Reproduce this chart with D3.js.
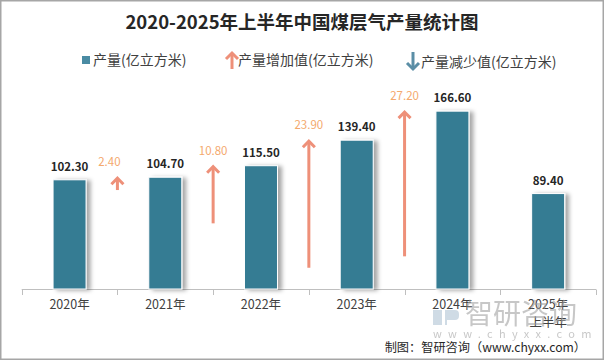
<!DOCTYPE html>
<html>
<head>
<meta charset="utf-8">
<script src="https://cdn.jsdelivr.net/npm/d3@7"></script>
<style>
  body { margin: 0; background: #fff; }
  text { font-family: "Noto Sans CJK SC", "Noto Sans", sans-serif; }
</style>
</head>
<body>
<script>
const width = 604;
const height = 361;

// data
const categories = ["2020年", "2021年", "2022年", "2023年", "2024年", "2025年\n上半年"];
const production = [102.3, 104.7, 115.5, 139.4, 166.6, 89.4];
const increase = [null, 2.4, 10.8, 23.9, 27.2, null];

const barColor = "#367b93";
const upColor = "#ee9079";
const upLabelColor = "#f4a96e";
const downColor = "#5b8ea6";
const textColor = "#404040";

const svg = d3.select("body").append("svg")
    .attr("width", width)
    .attr("height", height);

const defs = svg.append("defs");
const shadow = defs.append("filter").attr("id", "shadow")
    .attr("x", "-20%").attr("y", "-10%").attr("width", "160%").attr("height", "130%");
shadow.append("feDropShadow")
    .attr("dx", 4).attr("dy", 1).attr("stdDeviation", 2)
    .attr("flood-color", "#000").attr("flood-opacity", 0.35);

const x = d3.scaleBand()
    .domain(categories)
    .range([21.7, 596])
    .padding(0);

const y = d3.scaleLinear()
    .domain([0, 200])
    .range([289, 75.5]);

// frame
svg.append("rect")
    .attr("x", 0.75).attr("y", 0.75)
    .attr("width", width - 1.5).attr("height", height - 2.5)
    .attr("fill", "none").attr("stroke", "#a6a6a6").attr("stroke-width", 1.5);

// title
svg.append("text")
    .attr("x", width / 2).attr("y", 29)
    .attr("text-anchor", "middle")
    .attr("font-size", "18.5px").attr("font-weight", "bold")
    .attr("fill", "#262626")
    .text("2020-2025年上半年中国煤层气产量统计图");

// legend
const legend = svg.append("g").attr("font-size", "14px").attr("fill", textColor);
legend.append("rect").attr("x", 82).attr("y", 56).attr("width", 8).attr("height", 8).attr("fill", "#4a8ba3");
legend.append("text").attr("x", 93).attr("y", 65).text("产量(亿立方米)");

function drawArrow(g, x0, yTail, yTip, color, w) {
    const dir = yTip < yTail ? 1 : -1;
    g.append("line")
        .attr("x1", x0).attr("y1", yTail)
        .attr("x2", x0).attr("y2", yTip + dir * 1.5)
        .attr("stroke", color).attr("stroke-width", w);
    g.append("path")
        .attr("d", `M${x0 - 6},${yTip + dir * 7}L${x0},${yTip + dir * 1}L${x0 + 6},${yTip + dir * 7}`)
        .attr("fill", "none").attr("stroke", color).attr("stroke-width", w)
        .attr("stroke-linejoin", "miter");
}

drawArrow(legend, 232, 69, 52, upColor, 3);
legend.append("text").attr("x", 238).attr("y", 65).text("产量增加值(亿立方米)");
drawArrow(legend, 413, 52, 70, downColor, 3);
legend.append("text").attr("x", 421).attr("y", 67).text("产量减少值(亿立方米)");

// axis
const axis = svg.append("g").attr("stroke", "#bfbfbf").attr("stroke-width", 1);
axis.append("line")
    .attr("x1", x.range()[0]).attr("x2", x.range()[1])
    .attr("y1", 289.5).attr("y2", 289.5);
const tickXs = categories.map(c => x(c)).concat([x.range()[1]]);
axis.selectAll(".tick").data(tickXs).join("line")
    .attr("x1", d => Math.round(d) + 0.5).attr("x2", d => Math.round(d) + 0.5)
    .attr("y1", 289.5).attr("y2", 295);

const xLabels = svg.append("g").attr("font-size", "12.5px").attr("fill", textColor).attr("text-anchor", "middle");
categories.forEach(c => {
    const t = xLabels.append("text").attr("x", x(c) + x.bandwidth() / 2).attr("y", 309);
    c.split("\n").forEach((s, i) => {
        t.append("tspan").attr("x", x(c) + x.bandwidth() / 2).attr("dy", i === 0 ? 0 : 18).text(s);
    });
});

// bars
const barW = 33;
svg.append("g").selectAll("rect").data(production).join("rect")
    .attr("x", (d, i) => x(categories[i]) + x.bandwidth() / 2 - barW / 2)
    .attr("y", d => y(d))
    .attr("width", barW)
    .attr("height", d => y(0) - y(d))
    .attr("fill", barColor)
    .attr("stroke", "#fff").attr("stroke-width", 1)
    .attr("filter", "url(#shadow)");

svg.append("g").selectAll("text").data(production).join("text")
    .attr("x", (d, i) => x(categories[i]) + x.bandwidth() / 2)
    .attr("y", d => y(d) - 9)
    .attr("text-anchor", "middle")
    .attr("font-family", "'Noto Sans', sans-serif")
    .attr("font-size", "11.5px").attr("font-weight", "bold")
    .attr("fill", "#262626")
    .text(d => d.toFixed(2));

// increase arrows
const arrows = svg.append("g");
increase.forEach((v, i) => {
    if (v == null) return;
    const cur = production[i];
    const ax = x(categories[i]);
    drawArrow(arrows, ax, y(cur - v * 5), y(cur), upColor, 3);
    arrows.append("text")
        .attr("x", ax - (v < 5 ? 8 : 0)).attr("y", y(cur) - 11)
        .attr("text-anchor", "middle")
        .attr("font-family", "'Noto Sans', sans-serif")
        .attr("font-size", "11.5px")
        .attr("fill", upLabelColor)
        .text(v.toFixed(2));
});

// watermark
const wm = svg.append("g").attr("opacity", 0.55);
wm.append("rect").attr("x", 433).attr("y", 310).attr("width", 9).attr("height", 15).attr("fill", "#a9bfd0");
wm.append("path").attr("d", "M445,310h10a4,4 0 0 1 4,4v2a4,4 0 0 1 -4,4h-8v5h-2z").attr("fill", "#a9bfd0");
wm.append("text").attr("x", 465).attr("y", 324).attr("font-size", "28px").attr("fill", "#9a9a9a").text("智研咨询");
wm.append("text").attr("x", 433).attr("y", 338).attr("font-size", "11px").attr("fill", "#9a9a9a")
    .attr("letter-spacing", "6.3px").text("www.chyxx.com");

// source
svg.append("text")
    .attr("x", 586).attr("y", 352)
    .attr("text-anchor", "end")
    .attr("font-size", "12.2px").attr("fill", "#262626")
    .text("制图：智研咨询（www.chyxx.com）");
</script>
</body>
</html>
